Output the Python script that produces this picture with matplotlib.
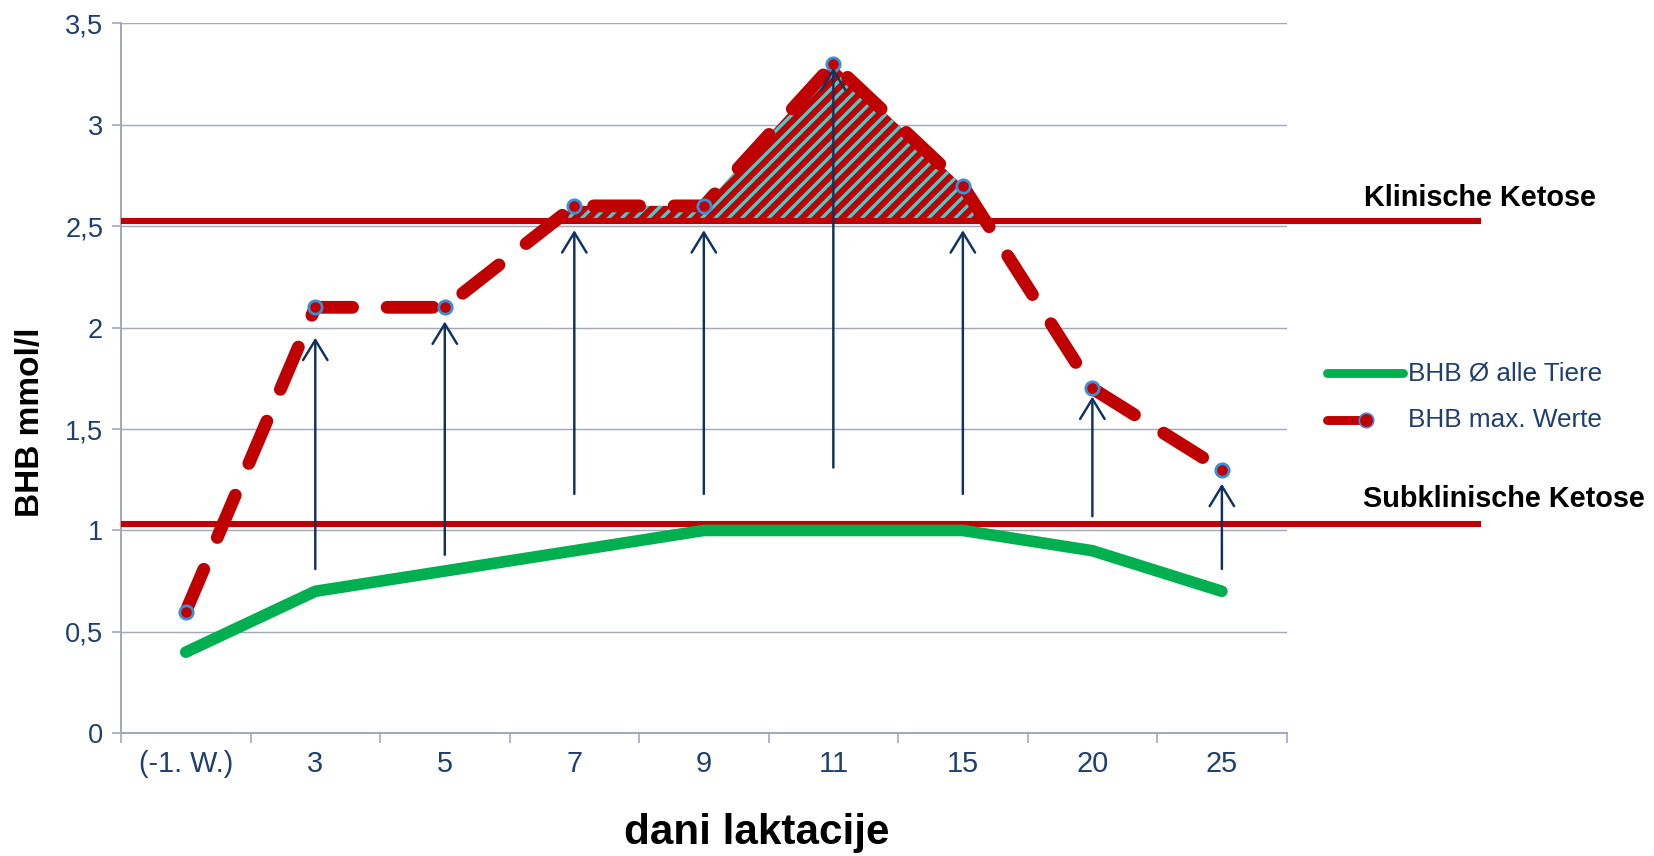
import numpy as np
import matplotlib
matplotlib.use("Agg")
import matplotlib.pyplot as plt
from matplotlib.lines import Line2D

plt.rcParams['font.family'] = ['Liberation Sans', 'DejaVu Sans']
plt.rcParams['hatch.linewidth'] = 3.0

# data
days = ['(-1. W.)', '3', '5', '7', '9', '11', '15', '20', '25']
bhb_mean = [0.4, 0.7, 0.8, 0.9, 1.0, 1.0, 1.0, 0.9, 0.7]
bhb_max = [0.6, 2.1, 2.1, 2.6, 2.6, 3.3, 2.7, 1.7, 1.3]
clinical = 2.525
subclinical = 1.03

# arrows (start / tip) for days 3..25
arrow_lo = [0.81, 0.88, 1.18, 1.18, 1.31, 1.18, 1.07, 0.81]
arrow_hi = [1.95, 2.03, 2.48, 2.48, 3.28, 2.48, 1.66, 1.23]

red = '#c00000'
green = '#00b050'
cyan = '#45cccc'
navy = '#10325f'
tick_col = '#1f3f6e'
grid_col = '#a4a8bc'

x = np.arange(len(days))

fig = plt.figure(figsize=(1654 / 80, 856 / 80), dpi=80)
ax = fig.add_axes([0.07316, 0.14334, 0.7779 - 0.07316, 0.97278 - 0.14334])

ax.set_xlim(-0.5, len(days) - 0.5)
ax.set_ylim(0, 3.5)

# grid and axes
yt = np.arange(0, 3.51, 0.5)
ax.set_yticks(yt)
ax.set_yticklabels([('%g' % v).replace('.', ',') for v in yt])
ax.yaxis.grid(True, color=grid_col, lw=1.3)
ax.set_axisbelow(True)
ax.set_xticks(x)
ax.set_xticklabels(days)
ax.set_xticks(np.arange(-0.5, len(days)), minor=True)
ax.tick_params(axis='x', which='major', length=0, pad=15, labelsize=26, labelcolor=tick_col)
ax.tick_params(axis='x', which='minor', length=9, width=1.5, color=grid_col)
ax.tick_params(axis='y', length=8, width=1.5, color=grid_col, pad=8, labelsize=24.5, labelcolor=tick_col)
for s in ['top', 'right']:
    ax.spines[s].set_visible(False)
for s in ['left', 'bottom']:
    ax.spines[s].set_color(grid_col)
    ax.spines[s].set_linewidth(1.8)

# hatched area above the clinical threshold
ax.fill_between(x, bhb_max, clinical, where=np.array(bhb_max) > clinical, interpolate=True,
                facecolor=red, edgecolor=cyan, hatch='//', linewidth=0, zorder=2)

# threshold lines
ax.plot([-0.5, 10.0], [clinical, clinical], color=red, lw=5.5, solid_capstyle='butt', clip_on=False, zorder=3)
ax.plot([-0.5, 10.0], [subclinical, subclinical], color=red, lw=5.5, solid_capstyle='butt', clip_on=False, zorder=3)

# series
ax.plot(x, bhb_mean, color=green, lw=10.5, solid_capstyle='round', solid_joinstyle='round', zorder=4)
ax.plot(x, bhb_max, color=red, lw=11.5, dashes=(3.6, 2.7), dash_capstyle='round', zorder=5)
ax.plot(x, bhb_max, ls='none', marker='o', ms=12, mfc=red, mec='#3a8fd6', mew=2.5, zorder=6)

# arrows
for xi, lo, hi in zip(x[1:], arrow_lo, arrow_hi):
    ax.annotate('', xy=(xi, hi), xytext=(xi, lo),
                arrowprops=dict(arrowstyle='->,head_length=0.9,head_width=0.55', lw=2.2, color=navy,
                                shrinkA=0, shrinkB=0, mutation_scale=20), zorder=7)

ax.text(9.1, 2.64, 'Klinische Ketose', fontsize=26, fontweight='bold', va='center', ha='left')
ax.text(9.09, 1.155, 'Subklinische Ketose', fontsize=26, fontweight='bold', va='center', ha='left')

fig.text(30 / 1654, 1 - 422 / 856, 'BHB mmol/l', fontsize=30, fontweight='bold',
         rotation=90, ha='center', va='center')
fig.text(757 / 1654, 1 - 833 / 856, 'dani laktacije', fontsize=38, fontweight='bold',
         ha='center', va='center')

# legend
fig.add_artist(Line2D([1327 / 1654, 1403 / 1654], [1 - 373 / 856] * 2, color=green, lw=8,
                      solid_capstyle='round'))
fig.add_artist(Line2D([1327 / 1654, 1366 / 1654], [1 - 420 / 856] * 2, color=red, lw=8,
                      solid_capstyle='round'))
fig.add_artist(Line2D([1366 / 1654], [1 - 420 / 856], marker='o', ms=13, mfc=red, mec='#3a8fd6', mew=1.5))
fig.text(1408 / 1654, 1 - 373 / 856, 'BHB Ø alle Tiere', fontsize=23.5, color=tick_col, va='center')
fig.text(1408 / 1654, 1 - 420 / 856, 'BHB max. Werte', fontsize=23.5, color=tick_col, va='center')

fig.savefig('out.png', dpi=80)
